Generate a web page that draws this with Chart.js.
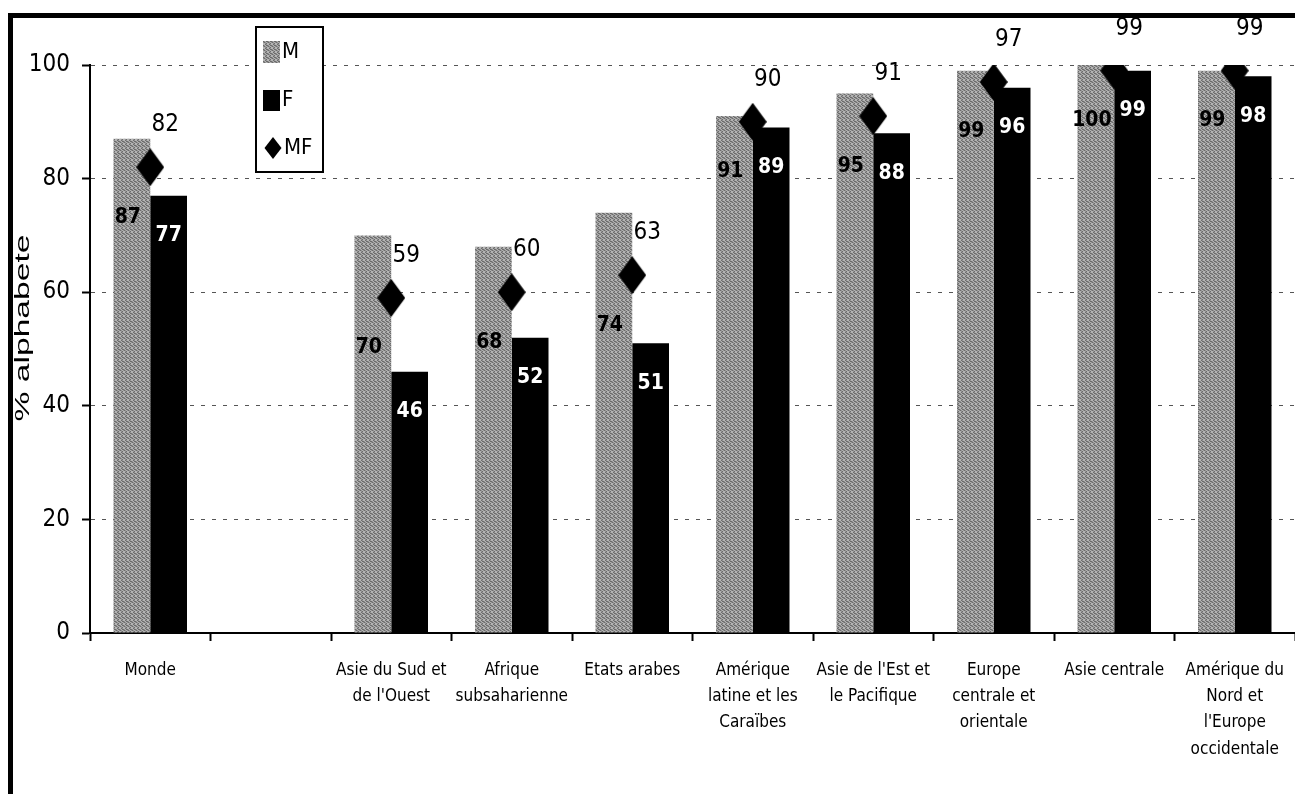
<!DOCTYPE html>
<html lang="fr">
  <head>
    <meta charset="UTF-8" />
    <title>% alphabete</title>
    <script src="https://cdn.jsdelivr.net/npm/chart.js"></script>
    <style>
      html, body { margin: 0; padding: 0; background: #fff; overflow: hidden; }
      canvas { display: block; }
    </style>
  </head>
  <body>
    <canvas id="myChart" width="1310" height="794"></canvas>
    <script>
      // categories (the 2nd one is an empty gap in the original)
      const regions = [
        ['Monde'],
        [''],
        ['Asie du Sud et', "de l'Ouest"],
        ['Afrique', 'subsaharienne'],
        ['Etats arabes'],
        ['Amérique', 'latine et les', 'Caraïbes'],
        ["Asie de l'Est et", 'le Pacifique'],
        ['Europe', 'centrale et', 'orientale'],
        ['Asie centrale'],
        ['Amérique du', 'Nord et', "l'Europe", 'occidentale']
      ];
      const valuesM  = [87, null, 70, 68, 74, 91, 95, 99, 100, 99];
      const valuesF  = [77, null, 46, 52, 51, 89, 88, 96, 99, 98];
      const valuesMF = [82, null, 59, 60, 63, 90, 91, 97, 99, 99];
      const yTicks = [0, 20, 40, 60, 80, 100];

      const narrow = "'Liberation Sans Narrow', 'Arial Narrow', 'DejaVu Sans Condensed', 'Liberation Sans', sans-serif";

      // stippled grey like the scanned bars
      function makeGrey() {
        const c = document.createElement('canvas');
        c.width = 4; c.height = 4;
        const g = c.getContext('2d');
        const tile = ['0120', '2011', '1202', '0210'];
        const cols = ['#b4b4b4', '#6c6c6c', '#929292'];
        for (let y = 0; y < 4; y++)
          for (let x = 0; x < 4; x++) {
            g.fillStyle = cols[+tile[y][x]];
            g.fillRect(x, y, 1, 1);
          }
        return g.createPattern(c, 'repeat');
      }
      const greyFill = makeGrey();

      function diamond(ctx, cx, cy, w, h) {
        ctx.beginPath();
        ctx.moveTo(cx, cy - h / 2);
        ctx.lineTo(cx + w / 2, cy);
        ctx.lineTo(cx, cy + h / 2);
        ctx.lineTo(cx - w / 2, cy);
        ctx.closePath();
        ctx.fill();
      }

      const diamondImg = document.createElement('canvas');
      diamondImg.width = 28; diamondImg.height = 38;
      (function () {
        const g = diamondImg.getContext('2d');
        g.fillStyle = '#000';
        diamond(g, 14, 19, 28, 38);
      })();

      const extras = {
        id: 'extras',
        afterDatasetsDraw(chart) {
          const ctx = chart.ctx;
          const mMeta = chart.getDatasetMeta(0);
          const fMeta = chart.getDatasetMeta(1);
          const dMeta = chart.getDatasetMeta(2);
          ctx.save();
          ctx.textAlign = 'center';
          ctx.textBaseline = 'middle';
          valuesM.forEach((v, i) => {
            if (v === null) return;
            const m = mMeta.data[i], f = fMeta.data[i], d = dMeta.data[i];
            ctx.font = 'bold 21px ' + narrow;
            ctx.fillStyle = '#000';
            ctx.fillText(String(v), m.x - 4, d.y + 50);
            ctx.fillStyle = '#fff';
            ctx.fillText(String(valuesF[i]), f.x, f.y + 40);
            ctx.font = '24px ' + narrow;
            ctx.fillStyle = '#000';
            ctx.fillText(String(valuesMF[i]), d.x + 15, d.y - 42);
          });

          // legend box
          const names = chart.data.datasets.map(ds => ds.label);
          ctx.fillStyle = '#fff';
          ctx.fillRect(256, 27, 67, 145);
          ctx.strokeStyle = '#000';
          ctx.lineWidth = 2;
          ctx.strokeRect(256, 27, 67, 145);
          ctx.fillStyle = greyFill;
          ctx.fillRect(263, 41, 17, 22);
          ctx.fillStyle = '#000';
          ctx.fillRect(263, 90, 17, 21);
          diamond(ctx, 273, 148, 17, 22);
          ctx.font = '22px ' + narrow;
          ctx.textAlign = 'left';
          ctx.fillText(names[0], 282, 52);
          ctx.fillText(names[1], 282, 100);
          ctx.fillText(names[2], 284, 148);
          ctx.restore();
        },
        afterDraw(chart) {
          const ctx = chart.ctx;
          ctx.save();
          // axis title, stretched like the scan
          ctx.translate(29, 328);
          ctx.rotate(-Math.PI / 2);
          ctx.scale(1.6, 1);
          ctx.font = '21px "Liberation Sans", Arial, sans-serif';
          ctx.fillStyle = '#000';
          ctx.textAlign = 'center';
          ctx.textBaseline = 'alphabetic';
          ctx.fillText('% alphabete', 0, 0);
          ctx.restore();
          // outer frame (left and top edges)
          ctx.fillStyle = '#000';
          ctx.fillRect(8, 13, 5, 800);
          ctx.fillRect(8, 13, 1310, 5);
        }
      };

      new Chart(document.getElementById('myChart'), {
        data: {
          labels: regions,
          datasets: [
            {
              type: 'bar',
              label: 'M',
              data: valuesM,
              backgroundColor: greyFill,
              borderWidth: 0,
              categoryPercentage: 0.61,
              barPercentage: 1.0
            },
            {
              type: 'bar',
              label: 'F',
              data: valuesF,
              backgroundColor: '#000',
              borderWidth: 0,
              categoryPercentage: 0.61,
              barPercentage: 1.0
            },
            {
              type: 'line',
              label: 'MF',
              data: valuesMF,
              showLine: false,
              pointStyle: diamondImg,
              pointRadius: 14,
              order: -1
            }
          ]
        },
        options: {
          responsive: false,
          devicePixelRatio: 1,
          animation: false,
          layout: { padding: { top: 65, right: 6, left: 0, bottom: 0 } },
          plugins: { legend: { display: false }, tooltip: { enabled: false } },
          scales: {
            x: {
              afterFit(scale) { scale.height = 161; },
              grid: {
                offset: true,
                drawOnChartArea: false,
                drawTicks: true,
                tickLength: 8,
                tickColor: '#000',
                tickWidth: 2
              },
              border: { color: '#000', width: 2 },
              ticks: {
                autoSkip: false,
                maxRotation: 0,
                padding: 16,
                color: '#000',
                font: { family: narrow, size: 17, lineHeight: 1.55 }
              }
            },
            y: {
              min: 0,
              max: 100,
              afterFit(scale) { scale.width = 90; },
              afterBuildTicks(scale) { scale.ticks = yTicks.map(v => ({ value: v })); },
              grid: {
                color: '#555',
                lineWidth: 1,
                borderDash: [4, 7],
                tickLength: 8,
                tickColor: '#000',
                tickWidth: 2,
                tickBorderDash: []
              },
              border: { color: '#000', width: 2, dash: [4, 7] },
              ticks: {
                padding: 12,
                color: '#000',
                font: { family: narrow, size: 24 }
              }
            }
          }
        },
        plugins: [extras]
      });
    </script>
  </body>
</html>
